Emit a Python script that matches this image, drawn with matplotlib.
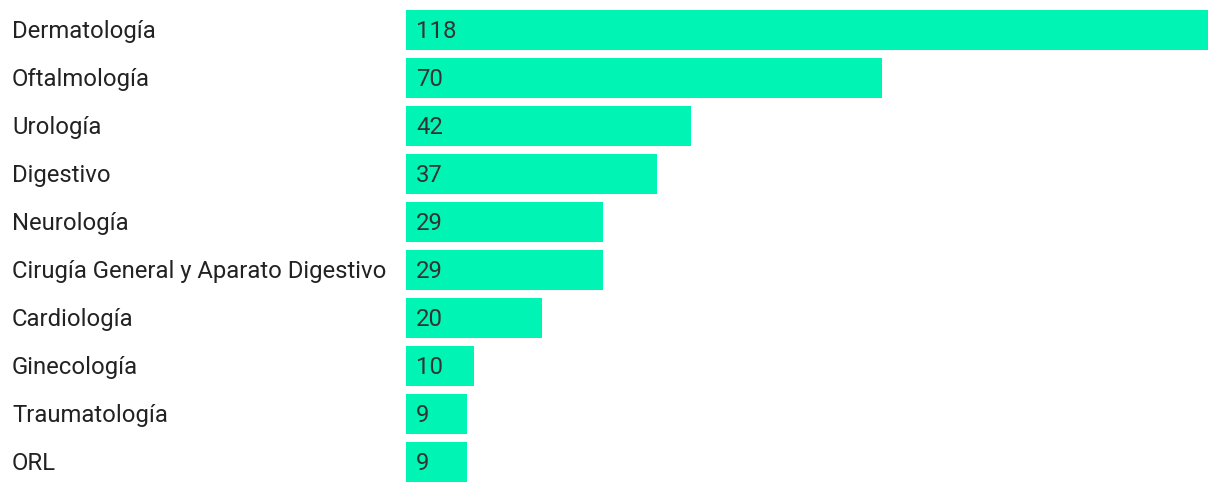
import matplotlib
matplotlib.use("Agg")
import matplotlib.pyplot as plt

categories = ["Dermatología", "Oftalmología", "Urología", "Digestivo", "Neurología",
              "Cirugía General y Aparato Digestivo", "Cardiología", "Ginecología",
              "Traumatología", "ORL"]
values = [118, 70, 42, 37, 29, 29, 20, 10, 9, 9]

plt.rcParams['font.family'] = ['Roboto', 'DejaVu Sans']

fig = plt.figure(figsize=(12.2, 4.92), dpi=100)
ax = fig.add_axes([406/1220, 6/492, 802/1220, 480/492])
y = list(range(len(categories)))
ax.barh(y, values, height=40/48, color="#00F5B4", edgecolor="none")
ax.set_xlim(0, max(values))
ax.set_ylim(len(categories) - 0.5, -0.5)
for yi, v in zip(y, values):
    ax.annotate(str(v), (0, yi), xytext=(7.4, -0.8), textcoords="offset points",
                va="center", ha="left", fontsize=17.2, color="#333333")
for yi, c in zip(y, categories):
    fig.text(12/1220, 1 - (31.5 + 48*yi)/492, c, ha="left", va="center",
             fontsize=17.2, color="#222222")
ax.axis("off")
fig.savefig("out.png", dpi=100)
